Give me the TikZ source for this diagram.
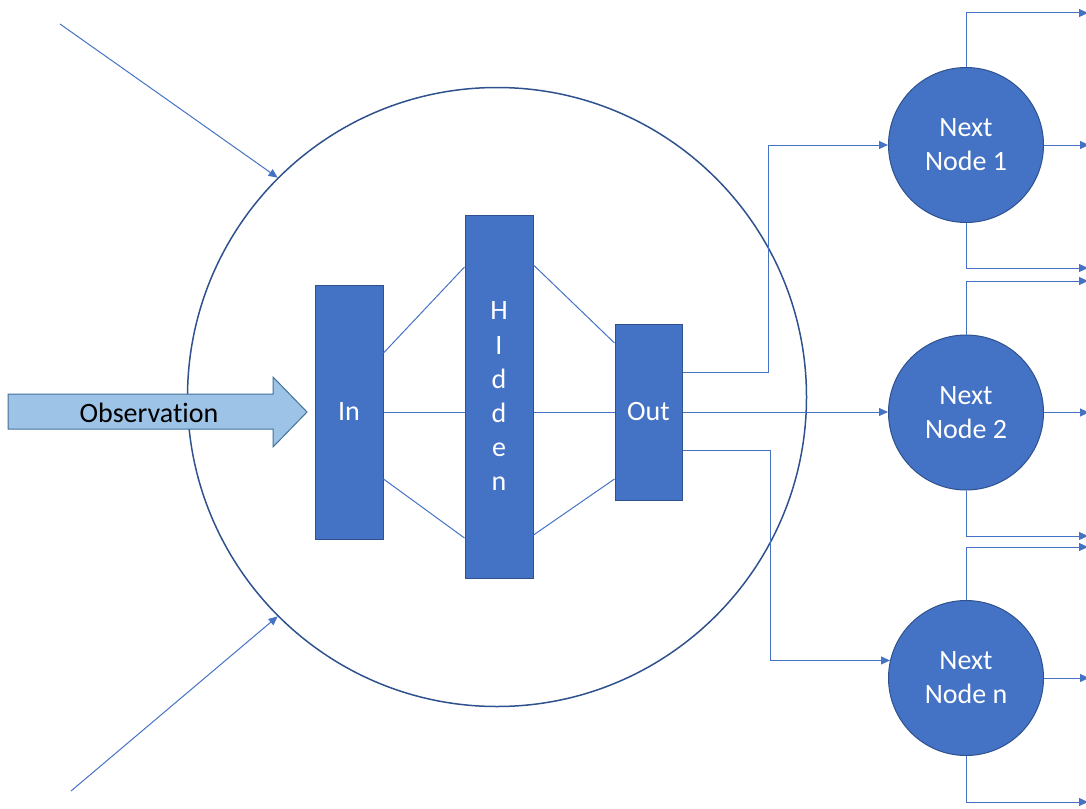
\documentclass[tikz,border=0pt]{standalone}
\usepackage{fontspec}
\setmainfont{Carlito}[Ligatures={NoCommon}]
\usetikzlibrary{arrows.meta}
\definecolor{nodefill}{HTML}{4472C4}
\definecolor{nodeedge}{HTML}{2F528F}
\definecolor{obsfill}{HTML}{9DC3E6}
\definecolor{obsedge}{HTML}{41719C}
\begin{document}
\begin{tikzpicture}[x=1pt,y=-1pt,
  bigfont/.style={font=\fontsize{28}{34.2}\selectfont},
  layer/.style={draw=nodeedge, fill=nodefill, line width=1pt, text=white, inner sep=0pt, align=center, bigfont},
  nextnode/.style={circle, draw=nodeedge, fill=nodefill, line width=1pt, minimum size=155pt, text=white, align=center, inner sep=0pt, bigfont},
  wire/.style={draw=nodefill, line width=1pt},
  conn/.style={draw=nodefill, line width=1pt, -{Triangle[length=9pt,width=8pt]}},
]
\useasboundingbox (0,0) rectangle (1086,808);

% big circle
\node[circle, draw=nodeedge, line width=1.5pt, minimum size=619pt, inner sep=0pt] (big) at (497,397) {};

% incoming arrows
\coordinate (tl) at (60,24);
\coordinate (bl) at (71,791);
\draw[conn] (tl) -- (big.135);
\draw[conn] (bl) -- (big.225);

% observation arrow
\draw[draw=obsedge, fill=obsfill, line width=1pt]
  (8,394) -- (273,394) -- (273,377) -- (307,412) -- (273,447) -- (273,429) -- (8,429) -- cycle;
\node[bigfont, text=black] (obs) at (149,413) {Observation};

% layers
\node[layer, minimum width=68pt, minimum height=254pt] (in) at (349,412) {In};
\node[layer, minimum width=68pt, minimum height=363pt] (hid) at (499,396.5) {H\\I\\d\\d\\e\\n};
\node[layer, minimum width=67pt, minimum height=176pt] (out) at (648.5,412) {Out};

% wires
\draw[wire] (in.east |- 0,353) -- (hid.west |- 0,267);
\draw[wire] (in.east |- 0,412) -- (hid.west |- 0,412);
\draw[wire] (in.east |- 0,479) -- (hid.west |- 0,538);
\draw[wire] (hid.east |- 0,265) -- (out.west |- 0,343);
\draw[wire] (hid.east |- 0,412) -- (out.west |- 0,412);
\draw[wire] (hid.east |- 0,535) -- (out.west |- 0,479);

% next nodes
\node[nextnode] (n1) at (966,145) {Next\\Node 1};
\node[nextnode] (n2) at (966,412.5) {Next\\Node 2};
\node[nextnode] (nn) at (966,678) {Next\\Node n};

% out -> next nodes
\draw[conn] (out.east |- 0,372) -- (768,372) |- (n1.west);
\draw[conn] (out.east |- 0,412) -- (n2.west |- 0,412);
\draw[conn] (out.east |- 0,450) -- (770,450) |- (nn.167.3);

% next node outputs
\draw[conn] (n1.north) |- (1088,13);
\draw[conn] (n1.east) -- ++(45,0);
\draw[conn] (n1.south) |- (1088,268);
\draw[conn] (n2.north) |- (1088,281);
\draw[conn] (n2.east) -- ++(45,0);
\draw[conn] (n2.south) |- (1088,536);
\draw[conn] (nn.north) |- (1088,547);
\draw[conn] (nn.east) -- ++(45,0);
\draw[conn] (nn.south) |- (1088,802);
\end{tikzpicture}
\end{document}
